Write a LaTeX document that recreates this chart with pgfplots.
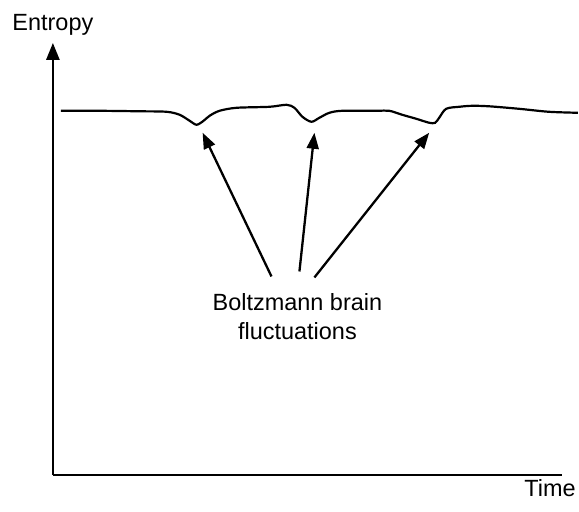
\documentclass[border=0pt]{standalone}
\usepackage{fontspec}
\setmainfont{Liberation Sans}
\usepackage{pgfplots}
\pgfplotsset{compat=1.18}
\usetikzlibrary{arrows.meta}

\begin{document}
\begin{tikzpicture}
\begin{axis}[
    scale only axis, width=510pt, height=433pt,
    xmin=0, xmax=510, ymin=0, ymax=433,
    axis lines=left, clip=false,
    xtick=\empty, ytick=\empty,
    x axis line style={-, line width=2.6pt},
    y axis line style={-{Triangle[length=17pt,width=13pt]}, line width=2.6pt},
]
% entropy curve (pixel-like units)
\addplot[black, line width=2.2pt, smooth, tension=0.5] coordinates {
    (8,365) (47,365) (87,364.5) (114,364) (127,361) (137,355) (144,351)
    (151,355) (157,360) (167,365) (184,368) (217,369) (234,371) (242,368)
    (250,359) (259,354) (267,358) (277,363) (290,365) (324,365) (337,365)
    (350,361) (364,357) (377,353) (383,353) (387,358) (394,367) (407,369)
    (420,370) (437,369.5) (467,367) (497,364) (526,363)
};
% annotation arrows
\draw[line width=2.3pt, -{Triangle[length=16pt,width=12pt]}] (axis cs:219,199) -- (axis cs:150,343);
\draw[line width=2.3pt, -{Triangle[length=16pt,width=12pt]}] (axis cs:247,204) -- (axis cs:262,343);
\draw[line width=2.3pt, -{Triangle[length=16pt,width=12pt]}] (axis cs:262,198) -- (axis cs:377,343);
\node[font=\fontsize{23.5}{28}\selectfont] at (axis cs:245,173) {Boltzmann brain};
\node[font=\fontsize{23.5}{28}\selectfont] at (axis cs:245,144) {fluctuations};
\node[font=\fontsize{23.5}{28}\selectfont] at (axis cs:0,451) {Entropy};
\node[font=\fontsize{23.5}{28}\selectfont] at (axis cs:498,-13) {Time};
\path (axis cs:-53,-36) rectangle (axis cs:526,476);
\end{axis}
\end{tikzpicture}
\end{document}
